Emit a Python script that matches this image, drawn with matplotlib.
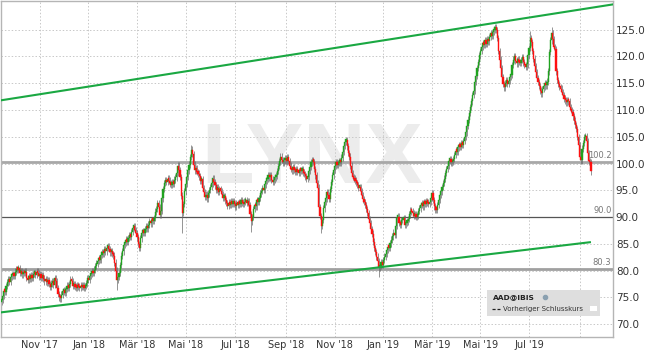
import numpy as np
import pandas as pd
import matplotlib
matplotlib.use('Agg')
import matplotlib.pyplot as plt
from matplotlib.patches import Rectangle

# daily closes AAD@IBIS, from 14 Sep 2017
closes = [
    74.6, 75.3, 76.2, 76.0, 77.1,   77.8, 78.4, 77.9, 78.8, 79.1,
    79.4, 79.0, 79.8, 80.3, 80.1,   80.4, 79.6, 79.9, 79.3, 79.7,
    79.5, 79.8, 78.6, 78.2, 78.9,   78.5, 79.1, 78.7, 79.4, 79.6,
    79.2, 79.8, 79.5, 78.9, 79.3,   78.6, 79.1, 78.5, 78.0, 78.4,
    77.8, 78.2, 77.5, 77.0, 77.6,   78.1, 77.4, 78.6, 78.0, 76.8,
    75.6, 75.0, 74.8, 75.5, 76.1,   76.4, 75.9, 76.6, 77.2, 76.8,
    77.5, 78.3, 78.0, 77.1, 77.4,   77.0, 76.8, 77.3, 77.0, 76.7,
    77.2, 76.9, 77.3, 76.8, 77.1,   77.6, 78.6, 78.2, 79.0, 79.4,
    79.8, 79.5, 80.2, 80.9, 81.3,   81.8, 82.3, 82.0, 83.0, 83.5,
    83.2, 84.0, 83.6, 84.2, 84.6,   84.0, 83.4, 83.7, 83.1, 82.8,
    81.5, 80.0, 78.2, 78.8, 79.6,   81.0, 82.8, 83.6, 84.8, 85.2,
    85.8, 85.4, 86.1, 86.6, 86.3,   87.2, 88.0, 88.3, 87.6, 87.0,
    86.2, 85.0, 84.3, 86.0, 87.1,   87.4, 87.0, 87.8, 88.2, 87.9,
    88.6, 89.2, 88.8, 89.5, 89.3,   89.8, 91.0, 91.5, 92.6, 91.8,
    90.4, 91.2, 93.5, 95.2, 96.4,   96.9, 96.5, 97.2, 96.8, 96.3,
    96.0, 96.6, 96.2, 97.0, 97.4,   98.2, 99.6, 98.8, 97.5, 94.0,
    90.8, 92.4, 94.8, 96.2, 97.5,   98.7, 99.8, 101.2, 102.6, 101.8,
    99.8, 98.7, 99.2, 98.4, 98.1,   97.6, 96.8, 97.1, 95.4, 94.6,
    93.7, 94.2, 93.5, 94.4, 95.0,   95.6, 96.3, 97.2, 96.5, 95.9,
    95.1, 95.5, 94.7, 95.2, 94.9,   94.3, 93.6, 93.9, 93.1, 92.6,
    92.1, 92.7, 92.3, 92.9, 92.5,   93.0, 92.4, 92.0, 92.6, 92.3,
    92.8, 92.5, 93.1, 92.7, 92.4,   92.9, 93.2, 92.6, 93.0, 92.2,
    90.6, 89.2, 90.0, 91.5, 92.3,   92.0, 93.1, 92.8, 93.6, 94.4,
    94.9, 95.4, 95.0, 96.1, 96.8,   97.2, 97.8, 97.4, 97.9, 97.0,
    96.5, 96.9, 97.4, 97.8, 98.6,   99.5, 100.4, 101.3, 100.7, 100.2,
    100.6, 101.0, 100.4, 101.2, 100.5,   99.6, 99.0, 98.7, 99.3, 98.8,
    98.4, 98.9, 98.5, 98.2, 98.7,   98.6, 98.9, 98.3, 98.0, 97.6,
    97.2, 97.5, 98.6, 99.4, 100.2,   100.6, 100.3, 99.0, 97.8, 96.4,
    95.5, 91.8, 90.2, 88.4, 89.5,   91.6, 92.8, 93.5, 94.6, 94.1,
    93.4, 95.2, 96.6, 97.8, 98.8,   99.5, 100.2, 99.8, 100.1, 100.4,
    100.2, 101.1, 102.2, 103.3, 104.0,   104.4, 103.2, 102.0, 101.3, 99.6,
    98.2, 97.5, 97.2, 96.8, 96.4,   96.0, 95.4, 95.6, 94.8, 94.1,
    93.3, 92.8, 92.2, 91.5, 90.8,   89.6, 88.9, 87.8, 86.9, 85.4,
    84.2, 83.5, 82.6, 81.8, 80.6,   80.9, 81.6, 81.0, 82.0, 82.6,
    83.1, 83.8, 84.4, 84.2, 85.1,   85.8, 86.4, 87.1, 86.6, 88.3,
    89.8, 90.1, 88.9, 88.6, 89.4,   89.5, 89.8, 88.5, 88.9, 89.2,
    89.6, 90.5, 91.2, 91.0, 90.7,   90.2, 90.6, 90.0, 90.3, 91.1,
    91.6, 92.2, 92.6, 92.0, 92.8,   92.5, 93.0, 92.7, 92.4, 92.9,
    93.6, 94.4, 93.2, 92.0, 91.4,   91.3, 92.2, 93.2, 94.2, 94.8,
    95.6, 96.4, 97.2, 98.2, 99.0,   99.6, 100.5, 100.8, 100.2, 100.4,
    100.8, 101.6, 102.4, 102.2, 103.0,   103.4, 103.1, 103.8, 103.5, 104.2,
    105.0, 105.8, 107.0, 108.2, 109.4,   110.5, 111.6, 112.8, 113.6, 115.2,
    116.4, 117.8, 119.0, 120.2, 121.0,   121.8, 122.5, 122.2, 123.0, 122.4,
    123.2, 122.8, 123.6, 124.3, 123.8,   124.6, 125.0, 125.4, 124.9, 123.4,
    121.0, 119.4, 117.8, 116.2, 114.8,   114.2, 115.0, 115.6, 114.8, 115.4,
    116.2, 116.6, 118.4, 119.4, 120.0,   119.2, 118.7, 119.5, 119.0, 118.8,
    119.3, 119.8, 118.9, 118.4, 118.0,   118.5, 120.2, 121.6, 123.4, 122.6,
    121.0, 119.6, 118.2, 117.0, 116.0,   115.2, 114.5, 113.6, 113.1, 113.9,
    114.4, 115.0, 114.6, 115.3, 117.2,   120.8, 123.0, 124.4, 123.2, 121.8,
    121.4, 117.2, 115.6, 114.9, 114.3,   114.0, 113.4, 112.8, 112.1, 111.8,
    111.4, 111.9, 111.6, 110.6, 110.0,   109.6, 108.8, 108.0, 107.2, 106.4,
    105.0, 103.4, 101.2, 100.6, 102.8,   103.8, 104.9, 105.1, 104.2, 102.0,
    100.4, 100.2, 98.6,
]

# notable intraday extremes (day index -> price)
spike_lows = {102: 76.3, 160: 87.0, 221: 87.2, 283: 87.0, 334: 78.8, 522: 97.8}
spike_highs = {168: 103.4, 305: 104.9, 437: 126.1, 468: 124.8, 487: 125.4}

# trend channel and reference levels
trend_top_x = [-0.5, 541.0]
trend_top_y = [111.8, 129.7]
trend_bot_x = [-0.5, 521.0]
trend_bot_y = [72.2, 85.3]
prev_close = 100.2
level_mid = 90.0
level_low = 80.3

month_names = {1: 'Jan', 3: 'Mär', 5: 'Mai', 7: 'Jul', 9: 'Sep', 11: 'Nov'}

dates = pd.bdate_range('2017-09-14', periods=len(closes))
n = len(closes)
idx = np.arange(n)
c = np.array(closes)
o = np.r_[c[0] - 0.4, c[:-1]]
hi = np.maximum(o, c) + 0.6
lo = np.minimum(o, c) - 0.6
for k, v in spike_lows.items():
    lo[k] = v
for k, v in spike_highs.items():
    hi[k] = v

fig = plt.figure(figsize=(6.45, 3.57), dpi=100)
ax = fig.add_axes([0.0015, 0.056, 0.949, 0.942])

ax.text(312 / 613 * 541, 100.5, 'LYNX', fontsize=62, fontweight='bold',
        family='Liberation Sans', color='#ececec', ha='center', va='center', zorder=0)

# candles
up = c >= o
ax.vlines(idx, lo, hi, color='#6a6a6a', lw=0.5, zorder=2)
body_lo = np.minimum(o, c)
body_h = np.maximum(np.abs(c - o), 0.5)
ax.bar(idx[up], body_h[up], bottom=body_lo[up], width=1.0, color='#1fa31f',
       edgecolor='#1fa31f', lw=0.3, zorder=3)
ax.bar(idx[~up], body_h[~up], bottom=body_lo[~up], width=1.0, color='#ff1010',
       edgecolor='#ff1010', lw=0.3, zorder=3)

# channel
ax.plot(trend_top_x, trend_top_y, color='#1aa842', lw=1.5, zorder=4)
ax.plot(trend_bot_x, trend_bot_y, color='#1aa842', lw=1.5, zorder=4)

# levels
ax.axhline(prev_close, color='#a8a8a8', lw=2, zorder=1.5)
ax.axhline(level_mid, color='#555555', lw=0.9, zorder=1.5)
ax.axhline(level_low, color='#a0a0a0', lw=2, zorder=1.5)
for val, txt in [(prev_close, '100.2'), (level_mid, '90.0'), (level_low, '80.3')]:
    ax.text(540, val + 0.4, txt, fontsize=6, color='#777777', ha='right', va='bottom', zorder=5)

# axes ticks
tick_pos, tick_lab = [], []
for i in range(1, n):
    if dates[i].month != dates[i - 1].month and dates[i].month in month_names:
        tick_pos.append(i)
        lab = "%s '%s" % (month_names[dates[i].month], str(dates[i].year)[2:])
        tick_lab.append(lab if i < n - 20 else '')
ax.set_xticks(tick_pos)
ax.set_xticklabels(tick_lab, fontsize=7, color='#333333')
yt = np.arange(70, 126, 5)
ax.set_yticks(yt)
ax.set_yticklabels(['%.1f' % v for v in yt], fontsize=7.5, color='#333333')
ax.yaxis.tick_right()
ax.tick_params(axis='both', length=0, pad=2)
ax.grid(True, linestyle=(0, (1.5, 2)), color='#c8c8c8', lw=0.7, zorder=1)
ax.set_axisbelow(True)
ax.set_xlim(-0.5, 541.5)
ax.set_ylim(67.6, 130.4)
for s in ax.spines.values():
    s.set_color('#b5b5b5')
    s.set_linewidth(1)

# legend box
ax.add_patch(Rectangle((0.794, 0.062), 0.185, 0.077, transform=ax.transAxes,
                       facecolor='#dedede', edgecolor='none', zorder=6))
ax.text(0.803, 0.118, 'AAD@IBIS', transform=ax.transAxes, fontsize=5.4,
        fontweight='bold', color='#222222', va='center', zorder=7)
ax.plot([0.889], [0.118], transform=ax.transAxes, marker='o', ms=3,
        color='#8aa0b0', zorder=7)
ax.plot([0.803, 0.816], [0.083, 0.083], transform=ax.transAxes, color='#222222',
        lw=0.9, ls=(0, (2.5, 1.5)), zorder=7)
ax.text(0.820, 0.083, 'Vorheriger Schlusskurs', transform=ax.transAxes, fontsize=5.0,
        color='#333333', va='center', zorder=7)
ax.add_patch(Rectangle((0.963, 0.076), 0.01, 0.016, transform=ax.transAxes,
                       facecolor='white', edgecolor='none', zorder=7))

fig.savefig('out.png', dpi=100)
